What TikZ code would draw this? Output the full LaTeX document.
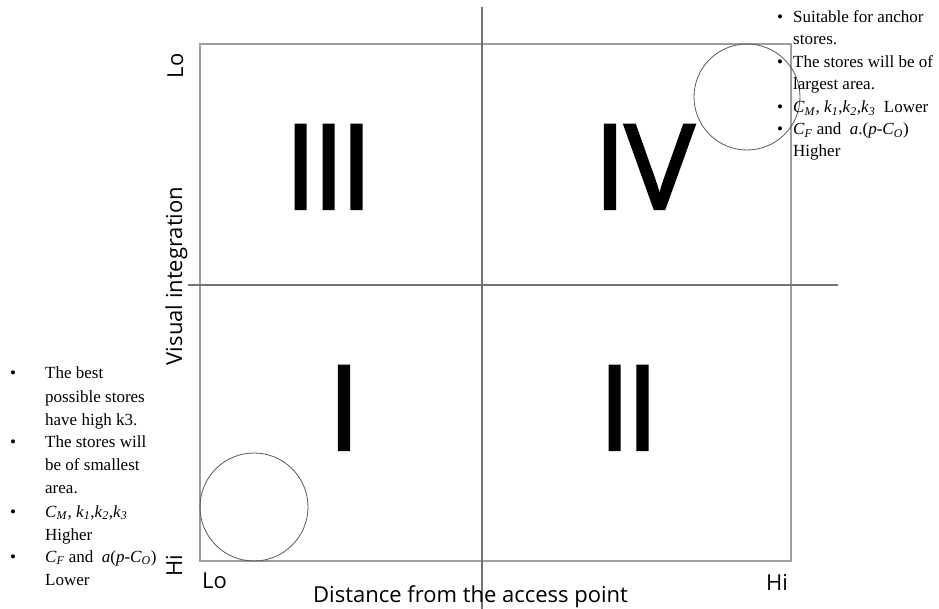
\documentclass[tikz,border=0pt]{standalone}
\usepackage{fontspec}
\setmainfont{Liberation Serif}
\newfontfamily\labelfont{Open Sans}
\newfontfamily\numfont[FakeBold=2]{Open Sans}
\newcommand{\vsub}[2]{\textit{#1}\textsubscript{\textit{#2}}}
\begin{document}
\begin{tikzpicture}[x=1pt,y=-1pt,
  boxline/.style={draw=black!38, line width=1.2pt},
  divider/.style={draw=black!55, line width=1.3pt},
  ring/.style={draw=black!65, line width=0.8pt, circle, inner sep=0pt},
  numeral/.style={font=\numfont\fontsize{118}{118}\selectfont, inner sep=0pt, anchor=base},
  axislabel/.style={font=\labelfont\fontsize{22}{22}\selectfont, inner sep=0pt},
  ltxt/.style={font=\fontsize{17}{20}\selectfont, inner sep=0pt, anchor=base west},
  bul/.style={font=\fontsize{17}{20}\selectfont, inner sep=0pt, anchor=base}]
\useasboundingbox (0,0) rectangle (939,609);
% frame and dividers
\draw[boxline] (200,44) rectangle (791,561);
\coordinate (vtop) at (482,7);
\coordinate (vbot) at (482,609);
\coordinate (hl) at (188,285);
\coordinate (hr) at (838,285);
\draw[divider] (vtop) -- (vbot);
\draw[divider] (hl) -- (hr);
% circles
\node[ring, minimum size=106pt] (c4) at (747,97) {};
\node[ring, minimum size=108pt] (c1) at (254,507) {};
% numerals
\node[numeral] (q3) at (328.5,209) {I\kern-5pt I\kern-5pt I};
\node[numeral] (q4) at (644,209) {I\kern-2pt V};
\node[numeral] (q1) at (344,450) {I};
\node[numeral] (q2) at (628.5,450) {I\kern-5pt I};
% axis labels
\node[axislabel, anchor=base west] (xlo) at (202,588) {Lo};
\node[axislabel, anchor=base east] (xhi) at (788,590) {Hi};
\node[axislabel, anchor=base west] (xlab) at (313,602) {Distance from the access point};
\node[axislabel, anchor=base, rotate=90] (ylab) at (182,276) {Visual integration};
\node[axislabel, anchor=base, rotate=90] (ylo) at (183,66) {Lo};
\node[axislabel, anchor=base, rotate=90] (yhi) at (182,566) {Hi};
% right list
\node[bul] (rb1) at (780,23) {•};
\node[ltxt] (r1) at (793,23) {Suitable for anchor};
\node[ltxt] (r2) at (793,45) {stores.};
\node[bul] (rb2) at (780,68) {•};
\node[ltxt] (r3) at (793,68) {The stores will be of};
\node[ltxt] (r4) at (793,90) {largest area.};
\node[bul] (rb3) at (780,113) {•};
\node[ltxt] (r5) at (793,113) {\vsub{C}{M}, \vsub{k}{1},\vsub{k}{2},\vsub{k}{3}\ \ Lower};
\node[bul] (rb4) at (780,135) {•};
\node[ltxt] (r6) at (793,135) {\vsub{C}{F} and\ \ \textit{a}.(\textit{p}-\vsub{C}{O})};
\node[ltxt] (r7) at (793,157) {Higher};
% left list
\node[bul] (lb1) at (13,378) {•};
\node[ltxt] (l1) at (45,378) {The best};
\node[ltxt] (l2) at (45,402) {possible stores};
\node[ltxt] (l3) at (45,425) {have high k3.};
\node[bul] (lb2) at (13,447) {•};
\node[ltxt] (l4) at (45,447) {The stores will};
\node[ltxt] (l5) at (45,470) {be of smallest};
\node[ltxt] (l6) at (45,493) {area.};
\node[bul] (lb3) at (13,517) {•};
\node[ltxt] (l7) at (45,517) {\vsub{C}{M}, \vsub{k}{1},\vsub{k}{2},\vsub{k}{3}};
\node[ltxt] (l8) at (45,540) {Higher};
\node[bul] (lb4) at (13,562) {•};
\node[ltxt] (l9) at (45,562) {\vsub{C}{F} and\ \ \textit{a}(\textit{p}-\vsub{C}{O})};
\node[ltxt] (l10) at (45,585) {Lower};
\end{tikzpicture}
\end{document}
